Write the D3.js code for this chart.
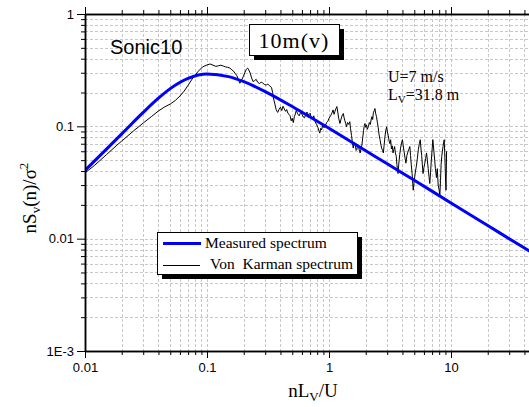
<!DOCTYPE html>
<html>
<head>
<meta charset="utf-8">
<script src="https://cdn.jsdelivr.net/npm/d3@7"></script>
<style>
  body { margin: 0; background: #fff; }
  svg { display: block; }
</style>
</head>
<body>
<div class="chart"></div>
<script>
    // Data

    // blue curve (labelled "Measured spectrum" in the legend)
    var modelN = [0.01, 0.015, 0.02, 0.03, 0.04, 0.05, 0.07, 0.1, 0.15, 0.2, 0.3, 0.5, 0.7, 1, 2, 3, 5, 10, 20, 40, 60];
    var modelS = [0.0405, 0.0627, 0.0856, 0.133, 0.178, 0.2165, 0.267, 0.292, 0.277, 0.25, 0.204, 0.150, 0.121, 0.096, 0.0607, 0.0464, 0.0331, 0.0208, 0.0131, 0.00825, 0.0063];

    // noisy black curve (labelled "Von Karman spectrum")
    var measN = [
        0.01, 0.012, 0.015, 0.018, 0.02, 0.025, 0.03, 0.035, 0.04, 0.045, 0.05, 0.055, 0.06, 0.065, 0.07, 0.077, 0.085, 0.092,
        0.1, 0.106, 0.112, 0.118, 0.124, 0.13, 0.136, 0.142, 0.148, 0.154, 0.16, 0.165, 0.17, 0.175, 0.18, 0.186, 0.192, 0.198,
        0.204, 0.21, 0.215, 0.22, 0.226, 0.232, 0.239, 0.246, 0.253, 0.26, 0.27, 0.278, 0.285, 0.295, 0.306, 0.315, 0.325, 0.338,
        0.345, 0.352, 0.36, 0.368, 0.375, 0.38, 0.39, 0.4, 0.41, 0.42, 0.43, 0.44, 0.45, 0.46, 0.47, 0.48, 0.49, 0.5,
        0.51, 0.52, 0.53, 0.54, 0.55, 0.56, 0.57, 0.585, 0.6, 0.615, 0.63, 0.645, 0.66, 0.68, 0.7, 0.715, 0.73, 0.75,
        0.77, 0.79, 0.81, 0.83, 0.84, 0.855, 0.87, 0.89, 0.91, 0.93, 0.955, 0.98, 1.0, 1.03, 1.055, 1.08, 1.1, 1.12,
        1.14, 1.16, 1.18, 1.2, 1.23, 1.25, 1.27, 1.29, 1.31, 1.33, 1.35, 1.37, 1.39, 1.42, 1.45, 1.48, 1.5, 1.53,
        1.56, 1.58, 1.61, 1.64, 1.67, 1.69, 1.72, 1.75, 1.78, 1.8, 1.83, 1.86, 1.89, 1.92, 1.95, 1.97, 2.0, 2.03,
        2.06, 2.1, 2.14, 2.18, 2.22, 2.25, 2.28, 2.31, 2.35, 2.38, 2.41, 2.45, 2.49, 2.53, 2.57, 2.62, 2.66, 2.7,
        2.75, 2.79, 2.83, 2.88, 2.92, 2.97, 3.01, 3.06, 3.11, 3.16, 3.2, 3.25, 3.3, 3.35, 3.4, 3.45, 3.5, 3.56,
        3.6, 3.64, 3.68, 3.73, 3.8, 3.86, 3.93, 4.0, 4.06, 4.13, 4.2, 4.27, 4.35, 4.43, 4.5, 4.6, 4.66, 4.72,
        4.8, 4.9, 4.97, 5.05, 5.12, 5.2, 5.3, 5.4, 5.5, 5.6, 5.67, 5.75, 5.82, 5.9, 6.0, 6.1, 6.2, 6.3,
        6.4, 6.5, 6.6, 6.7, 6.8, 6.9, 7.0, 7.1, 7.2, 7.35, 7.45, 7.6, 7.72, 7.85, 8.0, 8.1, 8.2, 8.3,
        8.4, 8.5, 8.6, 8.7, 8.8, 8.88, 8.95, 9.02, 9.1, 9.15, 9.2
    ];
    var measS = [
        0.0385, 0.045, 0.056, 0.067, 0.074, 0.091, 0.107, 0.122, 0.137, 0.149, 0.158, 0.170, 0.186, 0.206, 0.232, 0.272, 0.31, 0.338,
        0.352, 0.359, 0.35, 0.342, 0.346, 0.35, 0.344, 0.338, 0.335, 0.33, 0.318, 0.31, 0.296, 0.285, 0.265, 0.242, 0.258, 0.276,
        0.30, 0.322, 0.33, 0.318, 0.298, 0.27, 0.25, 0.256, 0.262, 0.247, 0.24, 0.248, 0.244, 0.236, 0.233, 0.238, 0.23, 0.222,
        0.2, 0.175, 0.158, 0.142, 0.136, 0.133, 0.142, 0.148, 0.138, 0.151, 0.143, 0.136, 0.141, 0.131, 0.128, 0.124, 0.112, 0.118,
        0.108, 0.122, 0.129, 0.14, 0.131, 0.127, 0.124, 0.133, 0.128, 0.121, 0.119, 0.128, 0.134, 0.126, 0.131, 0.119, 0.117, 0.124,
        0.11, 0.104, 0.098, 0.09, 0.087, 0.096, 0.093, 0.103, 0.097, 0.1, 0.108, 0.111, 0.118, 0.124, 0.131, 0.14, 0.128, 0.136,
        0.144, 0.15, 0.134, 0.118, 0.106, 0.114, 0.121, 0.127, 0.13, 0.119, 0.112, 0.106, 0.099, 0.108, 0.104, 0.11, 0.096, 0.083,
        0.07, 0.064, 0.072, 0.068, 0.061, 0.062, 0.069, 0.065, 0.06, 0.058, 0.063, 0.068, 0.079, 0.092, 0.102, 0.106, 0.098, 0.103,
        0.094, 0.099, 0.108, 0.104, 0.116, 0.122, 0.115, 0.132, 0.138, 0.144, 0.131, 0.122, 0.109, 0.098, 0.085, 0.076, 0.069, 0.064,
        0.061, 0.058, 0.068, 0.082, 0.092, 0.099, 0.089, 0.083, 0.074, 0.07, 0.076, 0.063, 0.067, 0.058, 0.062, 0.066, 0.058, 0.054,
        0.046, 0.041, 0.038, 0.046, 0.056, 0.064, 0.071, 0.076, 0.067, 0.059, 0.052, 0.047, 0.055, 0.059, 0.062, 0.066, 0.055, 0.046,
        0.038, 0.027, 0.031, 0.036, 0.04, 0.044, 0.052, 0.062, 0.07, 0.076, 0.064, 0.055, 0.046, 0.038, 0.043, 0.047, 0.052, 0.058,
        0.05, 0.042, 0.036, 0.031, 0.039, 0.05, 0.062, 0.076, 0.064, 0.05, 0.042, 0.035, 0.042, 0.03, 0.027, 0.024, 0.033, 0.046,
        0.054, 0.06, 0.066, 0.072, 0.076, 0.058, 0.045, 0.034, 0.027, 0.04, 0.06
    ];

    var xTicks = [0.01, 0.1, 1, 10];
    var xTickLabels = ['0.01', '0.1', '1', '10'];
    var yTicks = [1, 0.1, 0.01, 0.001];
    var yTickLabels = ['1', '0.1', '0.01', '1E-3'];

    // Layout
    var w = 529;
    var h = 407;
    var plotLeft = 85;
    var plotTop = 14;
    var plotBottom = 351;
    var plotRight = w;
    var decade = 122;
    var sans = "'Liberation Sans', Arial, sans-serif";
    var serif = "'Liberation Serif', 'Times New Roman', serif";

    var x = d3.scaleLog().domain([0.01, 100]).range([plotLeft, plotLeft + 4 * decade]);
    var y = d3.scaleLog().domain([0.001, 1]).range([plotBottom, plotTop]);

    // minor tick positions 2..9 in every decade
    var xMinor = [];
    [0.01, 0.1, 1, 10].forEach(function (d) {
        for (var k = 2; k <= 9; k++) { xMinor.push(d * k); }
    });
    var yMinor = [];
    [0.001, 0.01, 0.1].forEach(function (d) {
        for (var k = 2; k <= 9; k++) { yMinor.push(d * k); }
    });

    var svg = d3.select('.chart')
        .append('svg')
            .attr('width', w)
            .attr('height', h);

    svg.append('defs').append('clipPath').attr('id', 'plot')
        .append('rect')
            .attr('x', plotLeft).attr('y', plotTop)
            .attr('width', plotRight - plotLeft).attr('height', plotBottom - plotTop);

    // Grid
    var grid = svg.append('g')
        .attr('stroke', '#c8c8c8')
        .attr('stroke-width', 1)
        .attr('stroke-dasharray', '3,2');

    grid.selectAll('line.gx')
        .data(xTicks.concat(xMinor).filter(function (d) { return x(d) > plotLeft + 1 && x(d) < plotRight; }))
        .enter()
        .append('line')
            .attr('x1', function (d) { return Math.round(x(d)) + 0.5; })
            .attr('x2', function (d) { return Math.round(x(d)) + 0.5; })
            .attr('y1', plotTop)
            .attr('y2', plotBottom);

    grid.selectAll('line.gy')
        .data(yTicks.concat(yMinor).filter(function (d) { return y(d) > plotTop + 1 && y(d) < plotBottom - 1; }))
        .enter()
        .append('line')
            .attr('x1', plotLeft)
            .attr('x2', plotRight)
            .attr('y1', function (d) { return Math.round(y(d)) + 0.5; })
            .attr('y2', function (d) { return Math.round(y(d)) + 0.5; });

    // Curves
    var line = d3.line()
        .x(function (d) { return x(d[0]); })
        .y(function (d) { return y(d[1]); });

    var plot = svg.append('g').attr('clip-path', 'url(#plot)');

    plot.append('path')
        .datum(measN.map(function (n, i) { return [n, measS[i]]; }))
        .attr('d', line.curve(d3.curveLinear))
        .attr('fill', 'none')
        .attr('stroke', '#000')
        .attr('stroke-width', 1);

    plot.append('path')
        .datum(modelN.map(function (n, i) { return [n, modelS[i]]; }))
        .attr('d', line.curve(d3.curveMonotoneX))
        .attr('fill', 'none')
        .attr('stroke', '#0000ff')
        .attr('stroke-width', 3);

    // Axes
    function styleAxis(g) {
        g.select('.domain').attr('stroke', '#000').attr('stroke-width', 1.5);
        g.selectAll('.tick line').attr('stroke', '#000');
        g.selectAll('.tick text')
            .attr('font-family', sans)
            .attr('font-size', 13)
            .attr('fill', '#000');
    }

    svg.append('g')
        .attr('transform', 'translate(0,' + plotBottom + ')')
        .call(d3.axisBottom(x).tickValues(xTicks).tickSize(7).tickSizeOuter(0).tickPadding(5)
            .tickFormat(function (d, i) { return xTickLabels[i]; }))
        .call(styleAxis);
    svg.append('g')
        .attr('transform', 'translate(0,' + plotBottom + ')')
        .call(d3.axisBottom(x).tickValues(xMinor).tickSize(4).tickSizeOuter(0).tickFormat(''))
        .call(styleAxis);

    svg.append('g')
        .attr('transform', 'translate(0,' + plotTop + ')')
        .call(d3.axisTop(x).tickValues(xTicks).tickSize(7).tickSizeOuter(0).tickFormat(''))
        .call(styleAxis);
    svg.append('g')
        .attr('transform', 'translate(0,' + plotTop + ')')
        .call(d3.axisTop(x).tickValues(xMinor).tickSize(4).tickSizeOuter(0).tickFormat(''))
        .call(styleAxis);

    svg.append('g')
        .attr('transform', 'translate(' + plotLeft + ',0)')
        .call(d3.axisLeft(y).tickValues(yTicks).tickSize(8).tickSizeOuter(0).tickPadding(3)
            .tickFormat(function (d, i) { return yTickLabels[i]; }))
        .call(styleAxis);
    svg.append('g')
        .attr('transform', 'translate(' + plotLeft + ',0)')
        .call(d3.axisLeft(y).tickValues(yMinor).tickSize(4).tickSizeOuter(0).tickFormat(''))
        .call(styleAxis);

    // Axis titles
    var yTitle = svg.append('text')
        .attr('transform', 'translate(36,198) rotate(-90)')
        .attr('text-anchor', 'middle')
        .attr('font-family', serif)
        .attr('font-size', 19);
    yTitle.append('tspan').text('nS');
    yTitle.append('tspan').attr('font-size', 13).attr('dy', 4).text('v');
    yTitle.append('tspan').attr('dy', -4).text('(n)/\u03c3');
    yTitle.append('tspan').attr('font-size', 13).attr('dy', -8).text('2');

    var xTitle = svg.append('text')
        .attr('x', 313)
        .attr('y', 397)
        .attr('text-anchor', 'middle')
        .attr('font-family', serif)
        .attr('font-size', 19);
    xTitle.append('tspan').text('nL');
    xTitle.append('tspan').attr('font-size', 13).attr('dy', 4).text('V');
    xTitle.append('tspan').attr('dy', -4).text('/U');

    // Annotations
    svg.append('text')
        .attr('x', 110)
        .attr('y', 54)
        .attr('font-family', sans)
        .attr('font-size', 20)
        .text('Sonic10');

    svg.append('rect')
        .attr('x', 254).attr('y', 29).attr('width', 90).attr('height', 31)
        .attr('fill', '#000');
    svg.append('rect')
        .attr('x', 249.5).attr('y', 24.5).attr('width', 90).attr('height', 31)
        .attr('fill', '#fff').attr('stroke', '#000').attr('stroke-width', 1);
    svg.append('text')
        .attr('x', 294)
        .attr('y', 48)
        .attr('text-anchor', 'middle')
        .attr('font-family', serif)
        .attr('font-size', 22)
        .attr('letter-spacing', 1)
        .text('10m(v)');

    svg.append('text')
        .attr('x', 388)
        .attr('y', 82)
        .attr('font-family', serif)
        .attr('font-size', 16)
        .text('U=7 m/s');
    var lv = svg.append('text')
        .attr('x', 388)
        .attr('y', 100)
        .attr('font-family', serif)
        .attr('font-size', 16);
    lv.append('tspan').text('L');
    lv.append('tspan').attr('font-size', 11).attr('dy', 3).text('V');
    lv.append('tspan').attr('dy', -3).text('=31.8 m');

    // Legend
    var legend = svg.append('g');
    legend.append('rect')
        .attr('x', 162).attr('y', 237).attr('width', 200).attr('height', 42)
        .attr('fill', '#000');
    legend.append('rect')
        .attr('x', 157.5).attr('y', 232.5).attr('width', 200).attr('height', 42)
        .attr('fill', '#fff').attr('stroke', '#000').attr('stroke-width', 1);
    legend.append('line')
        .attr('x1', 163).attr('x2', 201).attr('y1', 243.5).attr('y2', 243.5)
        .attr('stroke', '#0000ff').attr('stroke-width', 3);
    legend.append('line')
        .attr('x1', 163).attr('x2', 200).attr('y1', 265.5).attr('y2', 265.5)
        .attr('stroke', '#000').attr('stroke-width', 1);
    legend.append('text')
        .attr('x', 205).attr('y', 248)
        .attr('font-family', serif).attr('font-size', 15.5)
        .text('Measured spectrum');
    legend.append('text')
        .attr('x', 210).attr('y', 269)
        .attr('font-family', serif).attr('font-size', 15.5)
        .style('white-space', 'pre')
        .text('Von  Karman spectrum');
</script>
</body>
</html>
